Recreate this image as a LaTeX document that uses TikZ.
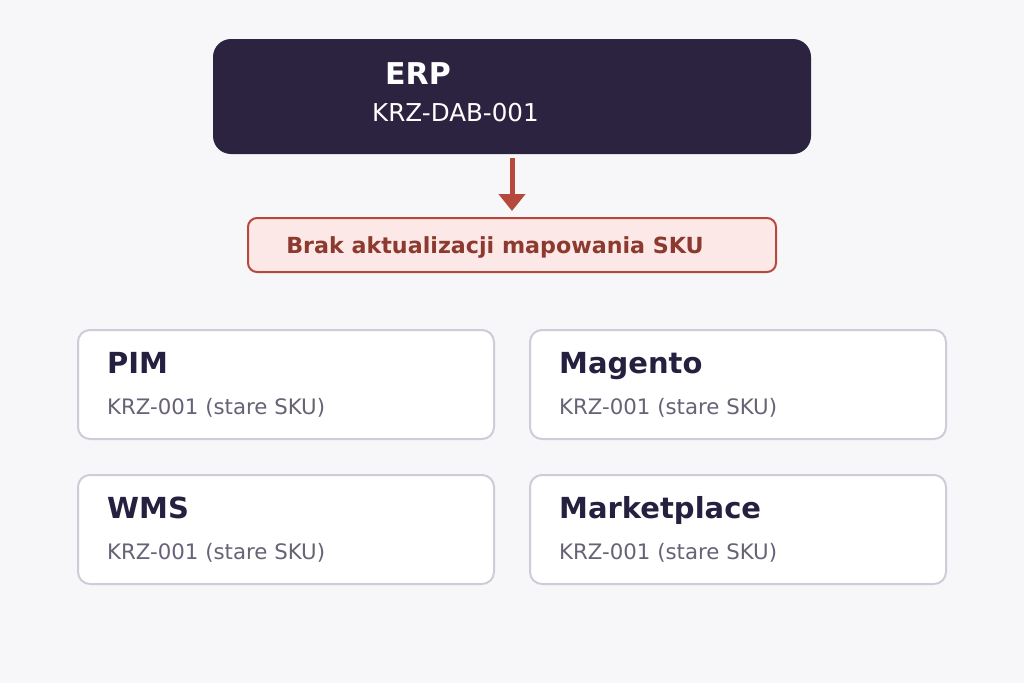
\documentclass[tikz,border=0pt]{standalone}
\usepackage{fontspec}
\setmainfont{DejaVu Sans}
\usetikzlibrary{arrows.meta}
\definecolor{bg}{HTML}{F7F7F9}
\definecolor{dark}{HTML}{2B2340}
\definecolor{pinkfill}{HTML}{FCE8E6}
\definecolor{redline}{HTML}{B54A3C}
\definecolor{redtext}{HTML}{8C3A2F}
\definecolor{cardline}{HTML}{CFCCD8}
\definecolor{titletext}{HTML}{262040}
\definecolor{subtext}{HTML}{686276}
\tikzset{
  card/.style={draw=cardline, line width=2pt, fill=white, rounded corners=12pt},
  cardtitle/.style={anchor=base west, inner sep=0pt, text=titletext, font=\fontsize{29}{33}\selectfont\bfseries},
  cardsub/.style={anchor=base west, inner sep=0pt, text=subtext, font=\fontsize{21.3}{25}\selectfont},
}
\begin{document}
\begin{tikzpicture}[x=1pt,y=-1pt]
\useasboundingbox (0,0) rectangle (1024,683);
\fill[bg] (0,0) rectangle (1024,683);
% ERP
\node[draw=none, fill=dark, rounded corners=18pt, minimum width=598pt, minimum height=115pt, inner sep=0pt] (erp) at (512,96.5) {};
\node[anchor=base west, inner sep=0pt, text=white, font=\fontsize{30}{34}\selectfont\bfseries] (erpt) at (385,84) {ERP};
\node[anchor=base west, inner sep=0pt, text=white, font=\fontsize{24.6}{28}\selectfont] (erps) at (372,121) {KRZ-DAB-001};
% warning
\node[draw=redline, line width=2pt, fill=pinkfill, rounded corners=9pt, minimum width=528pt, minimum height=54pt, inner sep=0pt] (warn) at (512,245) {};
\node[anchor=base, inner sep=0pt, text=redtext, font=\fontsize{22.2}{26}\selectfont\bfseries] (warnt) at (495,253) {Brak aktualizacji mapowania SKU};
\coordinate (atop) at (512,158);
\coordinate (abot) at (512,211);
\draw[redline, line width=5pt, -{Triangle[width=26pt,length=17pt]}] (atop) -- (abot);
% cards
\node[card, minimum width=416pt, minimum height=109pt, inner sep=0pt] (pim) at (286,384.5) {};
\node[card, minimum width=416pt, minimum height=109pt, inner sep=0pt] (mag) at (738,384.5) {};
\node[card, minimum width=416pt, minimum height=109pt, inner sep=0pt] (wms) at (286,529.5) {};
\node[card, minimum width=416pt, minimum height=109pt, inner sep=0pt] (mkt) at (738,529.5) {};
\node[cardtitle] (pimt) at (107,373) {PIM};
\node[cardsub] (pims) at (107,414) {KRZ-001 (stare SKU)};
\node[cardtitle] (magt) at (559,373) {Magento};
\node[cardsub] (mags) at (559,414) {KRZ-001 (stare SKU)};
\node[cardtitle] (wmst) at (107,518) {WMS};
\node[cardsub] (wmss) at (107,559) {KRZ-001 (stare SKU)};
\node[cardtitle] (mktt) at (559,518) {Marketplace};
\node[cardsub] (mkts) at (559,559) {KRZ-001 (stare SKU)};
\end{tikzpicture}
\end{document}
